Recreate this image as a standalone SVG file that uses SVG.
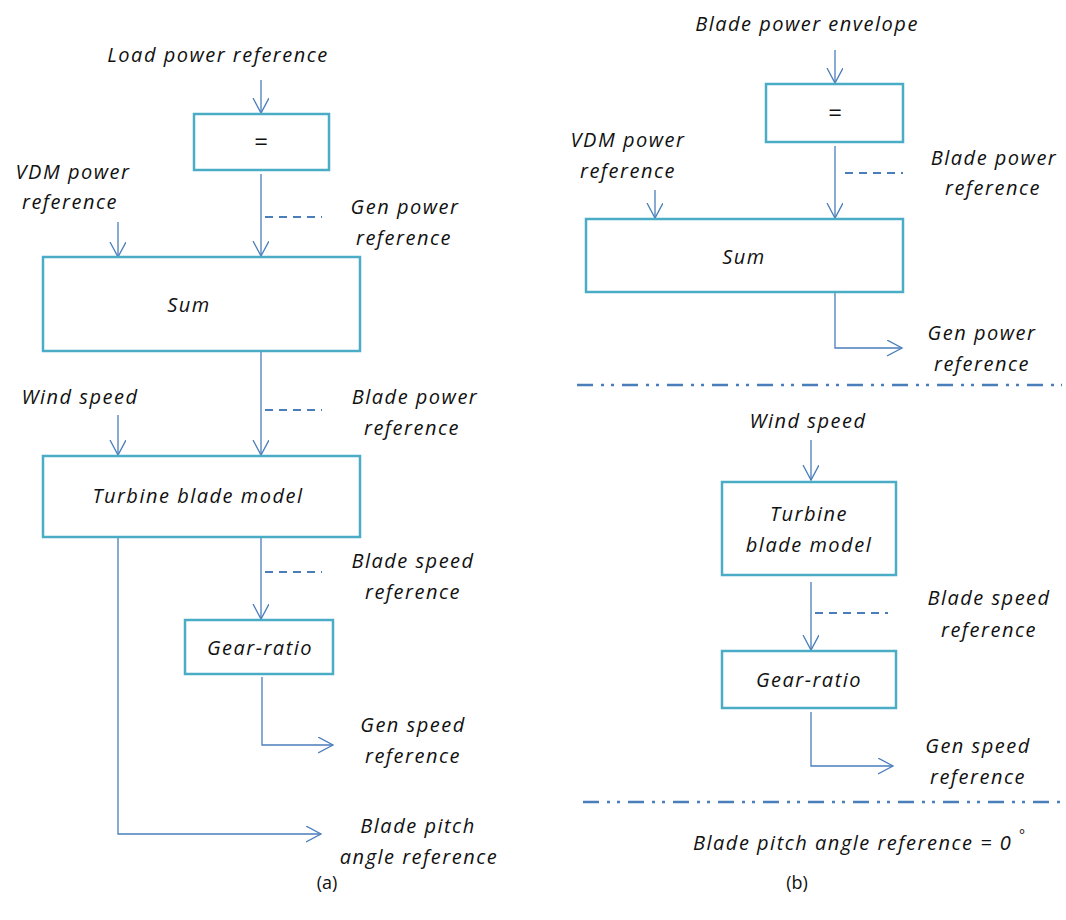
<svg xmlns="http://www.w3.org/2000/svg" width="1066" height="920" viewBox="0 0 1066 920">
<style>
.box{fill:#fff;stroke:#4BACC6;stroke-width:2.5}
.ln{fill:none;stroke:#4A7EBB;stroke-width:1.3}
.dsh{fill:none;stroke:#4A7EBB;stroke-width:2;stroke-dasharray:8 6}
.dd{fill:none;stroke:#4A7EBB;stroke-width:2.5;stroke-dasharray:16 8 3 7 3 8}
text{font-family:"Open Sans","DejaVu Sans",sans-serif;font-size:20px;font-style:italic;fill:#111;text-anchor:middle;letter-spacing:1.5px}
.up{font-style:normal;font-size:18px;letter-spacing:0}
.eq{font-style:normal;font-size:24px;letter-spacing:0}
</style>
<defs>
<marker id="ar" markerUnits="userSpaceOnUse" markerWidth="18" markerHeight="18" refX="15" refY="8" orient="auto">
<path d="M0,0 L15,8 L0,16" fill="none" stroke="#4A7EBB" stroke-width="1.3"/>
</marker>
</defs>
<g id="connectors">
<path class="ln" d="M261,80 V113" marker-end="url(#ar)"/>
<path class="ln" d="M261,174 V256" marker-end="url(#ar)"/>
<path class="dsh" d="M265,217 H322"/>
<path class="ln" d="M118,222 V257" marker-end="url(#ar)"/>
<path class="ln" d="M261,352 V455" marker-end="url(#ar)"/>
<path class="dsh" d="M265,410 H322"/>
<path class="ln" d="M118,415 V455" marker-end="url(#ar)"/>
<path class="ln" d="M118,538 V834 H321" marker-end="url(#ar)"/>
<path class="ln" d="M261,538 V619" marker-end="url(#ar)"/>
<path class="dsh" d="M265,572 H322"/>
<path class="ln" d="M262,677 V745 H333" marker-end="url(#ar)"/>
<path class="ln" d="M835,50 V83" marker-end="url(#ar)"/>
<path class="ln" d="M835,146 V218" marker-end="url(#ar)"/>
<path class="dsh" d="M845,173 H903"/>
<path class="ln" d="M655,190 V218" marker-end="url(#ar)"/>
<path class="ln" d="M835,293 V348 H902" marker-end="url(#ar)"/>
<path class="dd" d="M577,385 H1062"/>
<path class="ln" d="M811,440 V480" marker-end="url(#ar)"/>
<path class="ln" d="M811,582 V650" marker-end="url(#ar)"/>
<path class="dsh" d="M815,613 H888"/>
<path class="ln" d="M811,712 V766 H893" marker-end="url(#ar)"/>
<path class="dd" d="M583,802 H1062"/>
</g>
<g id="eq-a"><rect class="box" x="194" y="114" width="135" height="56"/><text class="eq" x="261" y="150">=</text></g>
<g id="sum-a"><rect class="box" x="43" y="257" width="317" height="94"/><text x="189" y="312">Sum</text></g>
<g id="turbine-a"><rect class="box" x="43" y="456" width="317" height="81"/><text x="198" y="503">Turbine blade model</text></g>
<g id="gear-a"><rect class="box" x="185" y="620" width="148" height="54"/><text x="260" y="655">Gear-ratio</text></g>
<g id="labels-a">
<text x="218" y="62">Load power reference</text>
<text x="73" y="179">VDM power</text><text x="70" y="209">reference</text>
<text x="405" y="214">Gen power</text><text x="404" y="245">reference</text>
<text x="80" y="404">Wind speed</text>
<text x="415" y="404">Blade power</text><text x="412" y="435">reference</text>
<text x="413" y="568">Blade speed</text><text x="413" y="599">reference</text>
<text x="413" y="732">Gen speed</text><text x="413" y="763">reference</text>
<text x="418" y="833">Blade pitch</text><text x="419" y="864">angle reference</text>
<text class="up" x="327" y="889">(a)</text>
</g>
<g id="eq-b"><rect class="box" x="766" y="84" width="137" height="58"/><text class="eq" x="835" y="121">=</text></g>
<g id="sum-b"><rect class="box" x="586" y="219" width="317" height="73"/><text x="744" y="264">Sum</text></g>
<g id="turbine-b"><rect class="box" x="722" y="482" width="174" height="93"/><text x="809" y="521">Turbine</text><text x="809" y="552">blade model</text></g>
<g id="gear-b"><rect class="box" x="722" y="651" width="174" height="57"/><text x="809" y="687">Gear-ratio</text></g>
<g id="labels-b">
<text x="807" y="31">Blade power envelope</text>
<text x="628" y="147">VDM power</text><text x="628" y="178">reference</text>
<text x="994" y="165">Blade power</text><text x="993" y="195">reference</text>
<text x="982" y="340">Gen power</text><text x="982" y="371">reference</text>
<text x="808" y="428">Wind speed</text>
<text x="989" y="605">Blade speed</text><text x="989" y="637">reference</text>
<text x="978" y="753">Gen speed</text><text x="978" y="784">reference</text>
<text x="693" y="850" style="text-anchor:start">Blade pitch angle reference = 0 <tspan dy="-10" font-size="14">°</tspan></text>
<text class="up" x="797" y="889">(b)</text>
</g>
</svg>
